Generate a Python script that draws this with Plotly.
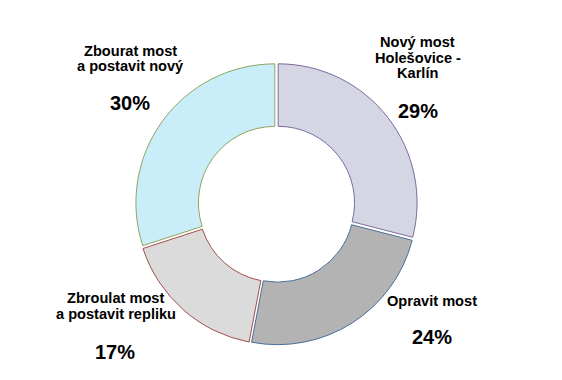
import plotly.graph_objects as go

labels = ["Nový most<br>Holešovice -<br>Karlín", "Opravit most",
          "Zbroulat most<br>a postavit repliku", "Zbourat most<br>a postavit nový"]
values = [29, 24, 17, 30]
fill_colors = ["#D4D7E3", "#B3B3B3", "#DBDBDB", "#C9EEFA"]
line_colors = ["#7E6A9E", "#4A6E9A", "#A34F4C", "#8EA55B"]

OFF = 8  # page body margin
W, H = 562 - OFF, 380 - OFF
cx, cy, R = 276.5 - OFF, 204 - OFF, 141

# label block and percent placement (pixel centres in the page)
label_pos = [(417.5, 57.5), (432, 300.5), (115.5, 306), (130, 58.5)]
pct_pos = [(418, 111), (432, 337), (115, 352), (130, 103)]
LINE = 16.0

fig = go.Figure(go.Pie(
    labels=labels, values=values, sort=False, direction="clockwise", rotation=0,
    hole=0.55, pull=[0.015] * 4, textinfo="none", hoverinfo="none",
    marker=dict(colors=fill_colors, line=dict(color=line_colors, width=1)),
    domain=dict(x=[(cx - R) / W, (cx + R) / W], y=[1 - (cy + R) / H, 1 - (cy - R) / H]),
    showlegend=False,
))

font = "Liberation Sans, Arial, sans-serif"
ann = []
for lab, (x, y) in zip(labels, label_pos):
    lines = lab.split("<br>")
    n = len(lines)
    for i, ln in enumerate(lines):
        ly = y + (i - (n - 1) / 2) * LINE
        ann.append(dict(text=ln, x=(x - OFF) / W, y=1 - (ly - OFF) / H, xref="paper", yref="paper",
                        showarrow=False, xanchor="center", yanchor="middle",
                        font=dict(family=font, size=14.6, color="black", weight="bold")))
for v, (x, y) in zip(values, pct_pos):
    ann.append(dict(text=f"{v}%", x=(x - OFF) / W, y=1 - (y - OFF) / H, xref="paper", yref="paper",
                    showarrow=False, xanchor="center", yanchor="middle",
                    font=dict(family=font, size=20, color="black", weight="bold")))

fig.update_layout(width=W, height=H, margin=dict(l=0, r=0, t=0, b=0),
                  paper_bgcolor="white", plot_bgcolor="white", annotations=ann)
fig.write_html("out.html")
